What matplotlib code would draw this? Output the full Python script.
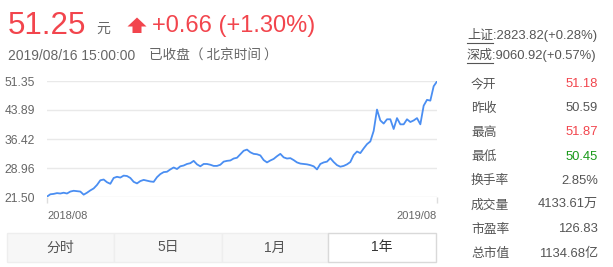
import numpy as np
import matplotlib
matplotlib.use("Agg")
from matplotlib import pyplot as plt
from matplotlib.patches import Rectangle, Polygon

plt.rcParams['font.family'] = ['Liberation Sans', 'Noto Sans CJK SC', 'DejaVu Sans']

# one year of closing prices
prices = [21.6, 22.2, 22.3, 22.5, 22.4, 22.6, 22.4, 22.9, 23.1, 23.0,
          22.9, 22.1, 22.6, 23.2, 23.7, 24.6, 25.8, 26.0, 25.3, 24.9,
          26.4, 26.7, 26.5, 27.0, 26.9, 26.4, 25.4, 25.0, 25.6, 25.9,
          25.7, 25.5, 25.4, 26.6, 27.4, 27.9, 28.0, 28.6, 29.1, 28.7,
          29.4, 29.6, 30.0, 30.2, 30.8, 29.9, 29.4, 30.0, 30.0, 29.8,
          29.5, 29.5, 29.8, 30.6, 30.8, 30.9, 31.4, 31.6, 32.5, 33.4,
          33.7, 33.0, 32.6, 32.5, 32.2, 31.0, 30.4, 30.9, 31.3, 32.0,
          32.6, 31.7, 31.4, 31.5, 31.0, 30.4, 30.1, 30.0, 29.9, 29.7,
          29.4, 28.6, 30.0, 30.4, 30.6, 31.5, 30.5, 29.7, 29.3, 29.5,
          29.9, 30.5, 32.3, 33.2, 32.8, 34.0, 35.1, 35.8, 38.5, 44.0,
          41.2, 40.4, 41.5, 41.5, 39.0, 41.8, 40.2, 40.2, 41.5, 40.8,
          41.2, 41.8, 40.2, 45.0, 46.5, 46.3, 50.0, 51.25]
y_ticks = [21.50, 28.96, 36.42, 43.89, 51.35]
x_labels = ['2018/08', '2019/08']
tabs = ['分时', '5日', '1月', '1年']

index_names = ['上证', '深成']
index_values = [':2823.82(+0.28%)', ':9060.92(+0.57%)']
stat_names = ['今开', '昨收', '最高', '最低', '换手率', '成交量', '市盈率', '总市值']
stat_values = ['51.18', '50.59', '51.87', '50.45', '2.85%', '4133.61万', '126.83', '1134.68亿']
stat_colors = ['#f2454d', '#555555', '#f2454d', '#1a9a1a', '#555555', '#555555', '#555555', '#555555']

W, H = 613, 267
RED = '#f2454d'
GRAY = '#666666'

fig = plt.figure(figsize=(W / 100, H / 100), dpi=100)


def fx(x):
    return x / W


def fy(y):
    return 1 - y / H


def ftext(x, y, s, **kw):
    fig.text(fx(x), fy(y), s, **kw)


# header
ftext(8, 34, '51.25', color=RED, fontsize=22.5, va='baseline')
ftext(96, 33, '元', color=GRAY, fontsize=10, va='baseline', family='Noto Sans CJK SC')
arrow = [(127.5, 26.5), (137, 17.5), (146.5, 26.5), (141.5, 26.5), (141.5, 33),
         (132.5, 33), (132.5, 26.5)]
fig.patches.append(Polygon([(fx(a), fy(b)) for a, b in arrow], closed=True,
                           transform=fig.transFigure, color=RED, lw=0))
ftext(152, 32, '+0.66 (+1.30%)', color=RED, fontsize=17, va='baseline')
ftext(8, 60, '2019/08/16 15:00:00', color=GRAY, fontsize=10, va='baseline')
ftext(149, 60, '已收盘（ 北京时间 ）', color=GRAY, fontsize=9.8, va='baseline',
      family='Noto Sans CJK SC')

# right panel
for i, (nm, val) in enumerate(zip(index_names, index_values)):
    y = 35 + i * 20
    ftext(467, y, nm + val, color='#555555', fontsize=9.4, va='center')
    fig.lines.append(plt.Line2D([fx(467), fx(493)], [fy(y + 7.5)] * 2,
                                transform=fig.transFigure, color='#555555', lw=0.8))

for i, (nm, val, c) in enumerate(zip(stat_names, stat_values, stat_colors)):
    y = 84 + i * 24.2
    ftext(471, y, nm, color='#555555', fontsize=9.2, va='center', family='Noto Sans CJK SC')
    ftext(598, y, val, color=c, fontsize=9.4, va='center', ha='right')

# chart
ax = fig.add_axes([fx(47), fy(197), fx(390), 116 / H])
n = len(prices)
ax.plot(np.arange(n), prices, color='#4a8ef2', lw=1.3, solid_joinstyle='round')
ax.set_xlim(0, n - 1)
ax.set_ylim(y_ticks[0], y_ticks[-1])
ax.set_yticks(y_ticks)
ax.set_yticklabels(['%.2f' % v for v in y_ticks])
ax.yaxis.grid(True, color='#e9e9e9', lw=1)
ax.set_axisbelow(True)
for s in ax.spines.values():
    s.set_visible(False)
ax.tick_params(axis='y', length=0, pad=8.5, labelsize=8.7, labelcolor=GRAY)
ax.set_xticks([0, n - 1])
ax.set_xticklabels(x_labels)
ax.tick_params(axis='x', length=4, width=1, color='#dddddd', direction='out',
               labelsize=8, labelcolor=GRAY, pad=6)
for lab, ha in zip(ax.get_xticklabels(), ['left', 'right']):
    lab.set_horizontalalignment(ha)

# period tabs
edges = [6.7, 114.3, 221.7, 328.3, 435.7]
top, bot = 233.3, 261.7
for i, t in enumerate(tabs):
    x0, x1 = edges[i], edges[i + 1]
    active = i == len(tabs) - 1
    fig.patches.append(Rectangle((fx(x0), fy(bot)), fx(x1 - x0), (bot - top) / H,
                                 transform=fig.transFigure,
                                 facecolor='white' if active else '#f7f7f7',
                                 edgecolor='#d9d9d9' if active else '#eeeeee',
                                 lw=1))
    ftext((x0 + x1) / 2, (top + bot) / 2, t, color='#333333' if active else '#555555',
          fontsize=10, ha='center', va='center')

fig.savefig('out.png', dpi=100, facecolor='white')
